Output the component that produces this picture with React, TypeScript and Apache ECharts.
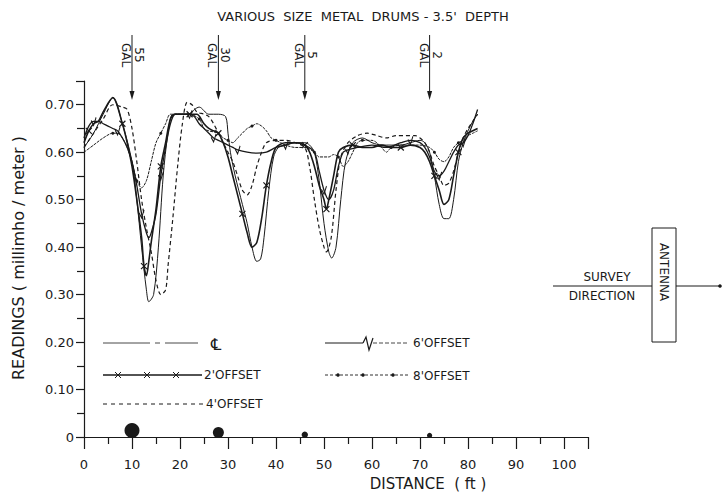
import React, { useEffect, useRef } from "react";
import * as echarts from "echarts";

// ---- data ----
const clPoints: [number, number][] = [
  [0, 0.61], [2, 0.64], [4, 0.68], [6, 0.715], [8, 0.66], [10, 0.58], [11, 0.5], [12, 0.4], [13, 0.31], [13.5, 0.285],
  [14.5, 0.3], [15.5, 0.4], [16.5, 0.55], [17.5, 0.64], [18.5, 0.68], [20, 0.68], [22, 0.68], [23, 0.69], [24, 0.695],
  [26, 0.68], [28, 0.68], [29.5, 0.675], [30, 0.64], [30.5, 0.6], [31.5, 0.55], [33, 0.49], [34, 0.45], [35, 0.4],
  [36, 0.37], [36.8, 0.375], [37.5, 0.42], [38.5, 0.52], [39.5, 0.59], [40.5, 0.61], [42, 0.615], [44, 0.62], [46, 0.62],
  [47, 0.615], [48, 0.6], [49, 0.54], [50, 0.45], [51, 0.39], [51.6, 0.377], [52.5, 0.4], [53.5, 0.5], [54.5, 0.58],
  [56, 0.62], [58, 0.63], [60, 0.62], [62, 0.615], [64, 0.615], [66, 0.615], [68, 0.62], [70, 0.625], [71, 0.62],
  [72, 0.6], [73, 0.55], [74, 0.49], [75, 0.46], [76, 0.46], [77, 0.5], [78, 0.58], [79, 0.62], [80, 0.645],
  [81, 0.665], [82, 0.68],
];
const offset2Points: [number, number][] = [
  [0, 0.62], [1, 0.645], [2, 0.66], [3, 0.665], [4, 0.685], [6, 0.715], [8, 0.66], [9, 0.62], [10, 0.57], [11, 0.5],
  [12, 0.42], [12.5, 0.36], [13, 0.34], [13.5, 0.37], [14, 0.41], [15, 0.48], [16, 0.57], [17, 0.62], [18, 0.67],
  [19, 0.68], [20, 0.68], [22, 0.68], [23.5, 0.68], [25, 0.66], [26, 0.65], [27, 0.645], [28, 0.64], [29, 0.62],
  [30, 0.59], [31, 0.55], [32, 0.51], [33, 0.47], [34, 0.43], [35, 0.4], [36, 0.41], [37, 0.46], [38, 0.53],
  [39, 0.58], [40, 0.61], [42, 0.62], [44, 0.62], [46, 0.615], [47, 0.6], [48, 0.57], [49, 0.53], [50, 0.5],
  [50.5, 0.48], [51, 0.5], [52, 0.55], [53, 0.6], [54, 0.61], [56, 0.615], [58, 0.61], [60, 0.61], [62, 0.615],
  [64, 0.61], [66, 0.61], [68, 0.615], [70, 0.61], [71, 0.6], [72, 0.58], [73, 0.55], [74, 0.52], [75, 0.49],
  [76, 0.5], [77, 0.55], [78, 0.6], [79, 0.63], [80, 0.64], [81, 0.645], [82, 0.65],
];
const offset4Points: [number, number][] = [
  [0, 0.61], [2, 0.64], [4, 0.67], [6, 0.7], [8, 0.695], [9, 0.69], [10, 0.65], [11, 0.58], [12, 0.5], [13, 0.44],
  [14, 0.39], [15, 0.33], [16, 0.3], [17, 0.31], [17.5, 0.36], [18.5, 0.46], [19.5, 0.57], [20.5, 0.66], [21.5, 0.705],
  [22.5, 0.7], [23.5, 0.685], [25, 0.68], [26, 0.675], [27, 0.66], [28, 0.64], [29, 0.62], [30, 0.6], [31, 0.58],
  [32, 0.55], [33, 0.52], [34, 0.51], [35, 0.53], [36, 0.57], [37, 0.6], [38, 0.62], [40, 0.625], [42, 0.625],
  [44, 0.62], [46, 0.61], [47, 0.57], [48, 0.5], [49, 0.44], [50, 0.4], [50.5, 0.39], [51.5, 0.42], [52.5, 0.52],
  [53.5, 0.59], [55, 0.62], [57, 0.635], [59, 0.64], [61, 0.635], [63, 0.63], [65, 0.635], [67, 0.635], [69, 0.635],
  [70, 0.63], [71, 0.62], [72, 0.6], [73, 0.57], [74, 0.55], [75, 0.53], [76, 0.535], [77, 0.56], [78, 0.6],
  [79, 0.63], [80, 0.65], [81, 0.665], [82, 0.68],
];
const offset6Points: [number, number][] = [
  [0, 0.63], [1, 0.655], [2, 0.665], [3, 0.665], [4, 0.66], [5, 0.655], [6, 0.65], [7, 0.645], [8, 0.63], [9, 0.61],
  [10, 0.58], [11, 0.53], [12, 0.47], [13, 0.43], [13.5, 0.42], [14, 0.43], [15, 0.47], [16, 0.55], [17, 0.61],
  [18, 0.66], [19, 0.68], [20, 0.68], [22, 0.68], [23, 0.675], [24, 0.66], [25, 0.65], [26, 0.64], [27, 0.63],
  [28, 0.625], [29, 0.62], [30, 0.615], [31, 0.61], [32, 0.605], [34, 0.6], [36, 0.598], [38, 0.6], [40, 0.61],
  [42, 0.615], [44, 0.62], [46, 0.615], [48, 0.6], [49, 0.56], [50, 0.52], [51, 0.5], [52, 0.52], [53, 0.57],
  [54, 0.6], [55, 0.605], [57, 0.61], [60, 0.615], [63, 0.61], [66, 0.62], [68, 0.625], [70, 0.62], [71, 0.61],
  [72, 0.59], [73, 0.56], [74, 0.55], [75, 0.56], [76, 0.58], [77, 0.6], [78, 0.615], [79, 0.62], [80, 0.635],
  [81, 0.66], [82, 0.69],
];
const offset8Points: [number, number][] = [
  [0, 0.6], [2, 0.615], [4, 0.63], [6, 0.64], [7, 0.64], [8, 0.63], [9, 0.61], [10, 0.58], [11, 0.54], [12, 0.525],
  [13, 0.54], [14, 0.58], [15, 0.62], [16, 0.64], [17, 0.66], [18, 0.68], [20, 0.68], [22, 0.68], [24, 0.67],
  [25, 0.65], [26, 0.645], [28, 0.64], [29, 0.63], [30, 0.625], [31, 0.62], [32, 0.63], [33, 0.64], [34, 0.65],
  [35, 0.655], [36, 0.66], [37, 0.655], [38, 0.645], [39, 0.63], [40, 0.625], [41, 0.62], [42, 0.615], [44, 0.61],
  [46, 0.61], [48, 0.6], [49, 0.59], [50, 0.59], [51, 0.59], [52, 0.595], [53, 0.59], [54, 0.57], [55, 0.58],
  [56, 0.6], [57, 0.62], [58, 0.625], [60, 0.625], [61, 0.62], [62, 0.61], [63, 0.6], [64, 0.61], [66, 0.615],
  [68, 0.615], [70, 0.615], [72, 0.61], [73, 0.6], [74, 0.585], [75, 0.58], [76, 0.59], [77, 0.61], [78, 0.62],
  [79, 0.625], [80, 0.635], [81, 0.64], [82, 0.645],
];
const drumPositions = [10, 28, 46, 72];
const drumGallons = ["55", "30", "5", "2"];

// ---- styles ----
const INK = "#1a1a1a";
const FONT = "DejaVu Sans";
const dotRadii = [7.5, 5.5, 3.2, 2.6];

function markEvery(points: [number, number][], step: number, phase: number) {
  return points.map((p, i) =>
    i % step === phase ? { value: p } : { value: p, symbol: "none" }
  );
}

export default function App() {
  const ref = useRef<HTMLDivElement>(null);

  useEffect(() => {
    document.body.style.margin = "0";
    if (!ref.current) return;
    const chart = echarts.init(ref.current, undefined, { renderer: "svg" });

    const txt = (text: string, x: number, y: number, size: number, extra: any = {}) => ({
      type: "text",
      x,
      y,
      silent: true,
      ...extra,
      style: { text, fill: INK, font: `${size}px "${FONT}"`, ...(extra.style || {}) },
    });

    const ln = (x1: number, y1: number, x2: number, y2: number, w = 1, dash?: number[]) => ({
      type: "line",
      silent: true,
      shape: { x1, y1, x2, y2 },
      style: { stroke: INK, lineWidth: w, lineDash: dash },
    });

    // legend drawn by hand
    const legend: any[] = [];
    legend.push(ln(103, 343, 150, 343, 0.8));
    legend.push(ln(155, 343, 160, 343, 0.8));
    legend.push(ln(165, 343, 198, 343, 0.8));
    legend.push(txt("℄", 211, 344, 16, { style: { verticalAlign: "middle" } }));
    legend.push(ln(325, 343, 363, 343, 1));
    legend.push({
      type: "polyline",
      silent: true,
      shape: { points: [[363, 343], [366, 337], [369, 350], [373, 338]] },
      style: { stroke: INK, lineWidth: 1.2, fill: "none" },
    });
    legend.push(ln(373, 343, 408, 343, 0.8, [4, 2]));
    legend.push(txt("6'OFFSET", 413, 343, 12, { style: { verticalAlign: "middle" } }));
    legend.push(ln(103, 375, 202, 375, 1.3));
    [118, 147, 176].forEach((x) => {
      legend.push(ln(x - 3, 372, x + 3, 378, 1));
      legend.push(ln(x - 3, 378, x + 3, 372, 1));
    });
    legend.push(txt("2'OFFSET", 204, 375, 12, { style: { verticalAlign: "middle" } }));
    legend.push(ln(325, 375, 410, 375, 0.9, [3, 2]));
    [338, 363, 393].forEach((x) => {
      legend.push({ type: "circle", silent: true, shape: { cx: x, cy: 375, r: 1.8 }, style: { fill: INK } });
    });
    legend.push(txt("8'OFFSET", 413, 376, 12, { style: { verticalAlign: "middle" } }));
    legend.push(ln(103, 404, 205, 404, 1, [4, 4]));
    legend.push(txt("4'OFFSET", 206, 404, 12, { style: { verticalAlign: "middle" } }));

    // survey direction / antenna
    const survey: any[] = [
      ln(553, 286, 652, 286, 1),
      {
        type: "rect",
        silent: true,
        shape: { x: 652, y: 228, width: 24, height: 114 },
        style: { fill: "none", stroke: INK, lineWidth: 1 },
      },
      ln(676, 286, 720, 286, 1),
      { type: "circle", silent: true, shape: { cx: 720, cy: 286, r: 1.8 }, style: { fill: INK } },
      txt("SURVEY", 607, 283, 12, { style: { align: "center", verticalAlign: "bottom" } }),
      txt("DIRECTION", 602, 290, 12, { style: { align: "center", verticalAlign: "top" } }),
      txt("ANTENNA", 664, 272, 12, {
        rotation: -Math.PI / 2,
        style: { align: "center", verticalAlign: "middle" },
      }),
    ];

    const lineBase = (name: string, points: any[], lineStyle: any, extra: any = {}) => ({
      name,
      type: "line",
      data: points,
      smooth: 0.3,
      symbol: "none",
      lineStyle: { color: INK, ...lineStyle },
      itemStyle: { color: INK },
      z: 3,
      ...extra,
    });

    const option: any = {
      animation: false,
      backgroundColor: "#ffffff",
      grid: { left: 84, right: 135, top: 81, bottom: 59 },
      xAxis: {
        type: "value",
        min: 0,
        max: 105,
        interval: 10,
        axisLine: { show: true, lineStyle: { color: INK, width: 1.2 } },
        axisTick: { show: true, length: 12, lineStyle: { color: INK, width: 1.2 } },
        minorTick: { show: true, splitNumber: 2, length: 7, lineStyle: { color: INK, width: 1.2 } },
        splitLine: { show: false },
        axisLabel: {
          margin: 21,
          color: INK,
          fontFamily: FONT,
          fontSize: 13,
          formatter: (v: number) => (v % 10 === 0 && v <= 100 ? String(v) : ""),
        },
      },
      yAxis: {
        type: "value",
        min: 0,
        max: 0.75,
        interval: 0.1,
        axisLine: { show: true, lineStyle: { color: INK, width: 1.2 } },
        axisTick: { show: true, length: 8, lineStyle: { color: INK, width: 1.2 } },
        minorTick: { show: true, splitNumber: 2, length: 7, lineStyle: { color: INK, width: 1.2 } },
        splitLine: { show: false },
        axisLabel: {
          margin: 10,
          color: INK,
          fontFamily: FONT,
          fontSize: 13,
          formatter: (v: number) => {
            if (Math.abs(v * 10 - Math.round(v * 10)) > 1e-6) return "";
            return v === 0 ? "0" : v.toFixed(2);
          },
        },
      },
      series: [
        lineBase("℄", clPoints, { width: 1 }),
        lineBase("2' OFFSET", markEvery(offset2Points, 5, 1), { width: 1.6 }, {
          symbol: "path://M0,0L10,10M10,0L0,10",
          symbolSize: 6,
          itemStyle: { color: "transparent", borderColor: INK, borderWidth: 1.2 },
        }),
        lineBase("4' OFFSET", offset4Points, { width: 1.2, type: [4, 3] }),
        lineBase("6' OFFSET", markEvery(offset6Points, 5, 2), { width: 1.3 }, {
          symbol: "path://M0,4L3,10L6,0",
          symbolSize: [5, 8],
          itemStyle: { color: "transparent", borderColor: INK, borderWidth: 1.2 },
        }),
        lineBase("8' OFFSET", markEvery(offset8Points, 5, 3), { width: 1, type: [3, 1] }, {
          symbol: "circle",
          symbolSize: 3,
        }),
        {
          type: "custom",
          name: "drums",
          data: drumPositions.map((x, i) => [x, 0, i]),
          encode: { x: 0, y: 1 },
          clip: false,
          z: 5,
          renderItem: (params: any, api: any) => {
            const idx = api.value(2);
            const [px, py] = api.coord([api.value(0), 0]);
            const r = dotRadii[idx];
            return {
              type: "group",
              children: [
                { type: "circle", shape: { cx: px, cy: py - r + 1, r }, style: { fill: INK } },
                { type: "line", shape: { x1: px, y1: 35, x2: px, y2: 93 }, style: { stroke: INK, lineWidth: 1 } },
                {
                  type: "polygon",
                  shape: { points: [[px - 2.5, 91], [px + 2.5, 91], [px, 100]] },
                  style: { fill: INK },
                },
                {
                  type: "text",
                  x: px + 7,
                  y: 55,
                  rotation: -Math.PI / 2,
                  style: {
                    text: drumGallons[idx],
                    fill: INK,
                    font: `12px "${FONT}"`,
                    align: "center",
                    verticalAlign: "middle",
                  },
                },
                {
                  type: "text",
                  x: px - 6,
                  y: 55,
                  rotation: -Math.PI / 2,
                  style: { text: "GAL", fill: INK, font: `12px "${FONT}"`, align: "center", verticalAlign: "middle" },
                },
              ],
            };
          },
        },
      ],
      graphic: [
        txt("VARIOUS  SIZE  METAL  DRUMS - 3.5'  DEPTH", 363, 16, 13, {
          style: { align: "center", verticalAlign: "middle" },
        }),
        txt("READINGS ( millimho / meter )", 18, 258, 16, {
          rotation: Math.PI / 2,
          style: { align: "center", verticalAlign: "middle" },
        }),
        txt("DISTANCE  ( ft )", 428, 484, 15, { style: { align: "center", verticalAlign: "middle" } }),
        ...legend,
        ...survey,
      ],
    };

    chart.setOption(option);
    return () => chart.dispose();
  }, []);

  return <div ref={ref} style={{ width: 723, height: 496 }} />;
}
